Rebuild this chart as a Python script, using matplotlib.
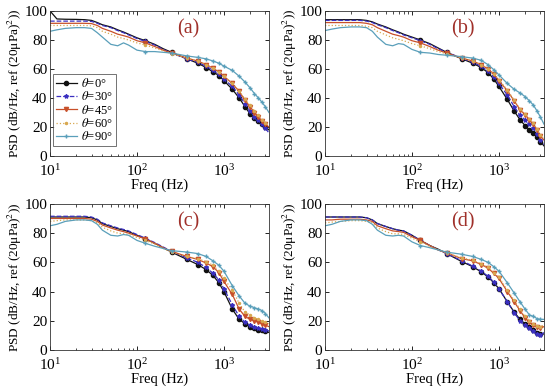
import numpy as np
import matplotlib
matplotlib.use("Agg")
import matplotlib.pyplot as plt
from matplotlib.ticker import LogLocator, NullFormatter

plt.rcParams['font.family'] = ['Liberation Serif', 'DejaVu Serif']
plt.rcParams['mathtext.fontset'] = 'stix'

# frequency grid (Hz)
freq = [10, 12, 15, 20, 25, 30, 35, 40, 50, 60, 70, 80, 100, 125, 160, 200, 250,
        375, 500, 625, 750, 875, 1000, 1250, 1500, 1750, 2000, 2250, 2500, 2750, 3000, 3300]

labels = [r'$\theta$=0°', r'$\theta$=30°', r'$\theta$=45°', r'$\theta$=60°', r'$\theta$=90°']

# panel (a)
a0 = [100, 94.5, 94.3, 94.2, 94, 93.5, 92, 90.5, 89, 87, 85.5, 84, 81.5, 79.5, 77, 74, 71.5, 67, 64, 61, 58, 55.5, 52, 46, 40, 34, 29, 26, 24, 22, 20, 18]
a30 = [93, 93, 93, 93, 93, 92.8, 91.5, 90, 88.5, 86.5, 85, 83.5, 81, 79, 76.5, 73.5, 71, 67, 64.5, 62, 59, 56.5, 53, 48, 42, 36, 31, 27, 25, 22, 19, 16]
a45 = [91.5, 91.5, 91.5, 91.5, 91.5, 91.3, 90, 88, 86, 84, 83, 82, 79.5, 78, 75.5, 73, 71, 67.5, 65.5, 63, 60.5, 58, 55, 50, 44.5, 38.5, 34, 30, 27, 24, 22, 20]
a60 = [90, 90, 90, 90, 90, 89.8, 88.5, 86, 84, 82, 81, 80, 78, 76.5, 74.5, 72.5, 70.5, 67.5, 65.5, 63, 60.5, 58, 55, 50, 45, 39, 35, 31, 28, 25, 23, 21]
a90 = [86, 87, 88, 88.5, 88.5, 88, 85, 82, 77, 76, 78, 76.5, 73, 72, 72, 71.5, 71, 69, 68, 67, 65.5, 64, 62, 59, 55, 51, 47, 43, 40, 37, 34, 30]

# panel (b)
b0 = [94, 94, 94, 94, 94, 93.5, 92.5, 91, 89, 87, 85.5, 84, 82, 80, 77.5, 74.5, 71.5, 67, 64, 61, 57.5, 53, 48, 39, 31, 25, 21, 18, 16, 13, 10, 7]
b30 = [93.5, 93.5, 93.5, 93.5, 93.5, 93, 92, 90.5, 88.5, 86.5, 85, 83.5, 81.5, 79.5, 77, 74, 71.5, 67.5, 64.5, 62, 58.5, 54.5, 50, 42, 34, 28, 25, 22, 19, 15, 11, 8]
b45 = [92, 92, 92, 92, 92, 91.5, 90.5, 88.5, 86, 84, 83, 82, 79.5, 78, 75.5, 73, 71, 67.5, 65.5, 63, 60, 56.5, 52, 45, 38, 32, 28.5, 25, 22, 18, 14, 11]
b60 = [90, 90, 90, 90, 90, 89.5, 88.5, 86, 83.5, 81.5, 80.5, 79.5, 77.5, 76, 74, 72, 70.5, 67.5, 65.5, 63, 60, 56.5, 52.5, 45.5, 38.5, 32.5, 29, 25.5, 22.5, 18.5, 14.5, 12]
b90 = [86.5, 87.5, 88.5, 89, 89, 88.5, 86, 82, 77, 76, 77.5, 77, 73.5, 71.5, 71, 70, 69.5, 68.5, 67.5, 66, 63, 59.5, 56, 50, 46, 43.5, 41, 38, 35, 31, 27, 22]

# panel (c)
c0 = [91, 91, 91, 91, 91, 90.5, 89, 86.5, 84.5, 83, 82, 81, 78.5, 76, 73, 70, 67, 62, 58.5, 55, 51, 46, 40, 28, 21, 18, 16, 15, 14, 13.5, 13, 12]
c30 = [91.5, 91.5, 91.5, 91.5, 91.5, 91, 89.5, 87, 85, 83.5, 82.5, 81.5, 79, 76.5, 73.5, 70.5, 67.5, 63, 60, 56.5, 52.5, 48, 42, 31, 23, 19, 17, 16, 15, 14.5, 14, 13]
c45 = [90, 90, 90, 90, 90, 89.5, 88, 85.5, 83.5, 82, 81, 80, 78, 76, 73, 70, 67.5, 64, 62, 59.5, 57, 53, 47, 38, 28, 23, 21, 20, 19, 18, 17, 16]
c60 = [88, 88.5, 89, 89, 89, 88.5, 87, 84, 81.5, 80, 79.5, 79, 77, 75, 72.5, 69.5, 67, 64, 62.5, 60.5, 58, 54, 49, 41, 32, 26, 24, 22, 21, 20, 19, 18]
c90 = [85, 86, 88, 89, 89, 88.5, 86, 82, 78.5, 78, 79, 78.5, 75, 73, 71, 69.5, 68, 67, 66, 64, 61, 58, 54, 44, 37, 32, 30, 29, 28, 27, 25, 22]

# panel (d)
d0 = [91, 91, 91, 91, 91, 90.5, 89, 86.5, 84.5, 83, 82, 81.5, 78.5, 75, 71.5, 69, 66, 60.5, 57, 53.5, 50, 46, 42, 33, 26, 21, 18, 16, 14, 12, 11, 11]
d30 = [91, 91, 91, 91, 91, 90.5, 89, 86.5, 84.5, 83, 82, 81.5, 78.5, 75, 71.5, 68.5, 66, 61, 57.5, 54, 50.5, 46.5, 42, 33, 25.5, 20, 17, 15, 13, 11, 10, 12]
d45 = [89, 89, 89.5, 89.5, 89.5, 89, 88, 85, 83, 81.5, 81, 80.5, 77.5, 75, 71.5, 68.5, 66.5, 62.5, 61, 58.5, 56, 52.5, 49, 40, 33, 27, 22, 19, 17, 15.5, 15, 16]
d60 = [87, 87.5, 88, 88.5, 88.5, 88, 87, 83.5, 81, 79.5, 79.5, 79, 76.5, 74, 71, 68.5, 66.5, 63, 61.5, 59, 56.5, 53, 50, 41, 34, 28, 23, 20, 18, 16.5, 16, 17]
d90 = [85, 86, 88, 89, 89, 88.5, 86, 82, 78.5, 78, 78.5, 78, 74, 71.5, 70, 68.5, 67, 65.5, 64, 62, 60, 57, 54, 46, 39, 33, 28, 24, 23, 21.5, 21, 21]

panels = [('(a)', [a0, a30, a45, a60, a90]),
          ('(b)', [b0, b30, b45, b60, b90]),
          ('(c)', [c0, c30, c45, c60, c90]),
          ('(d)', [d0, d30, d45, d60, d90])]

colors = ['#111111', '#3a2fc0', '#c8502a', '#d8a850', '#5a9fba']
styles = ['-', '--', '-', ':', '-']
markers = ['o', '*', 'v', '.', '+']

mark_idx = [i for i, f in enumerate(freq) if f % 125 == 0]

fig = plt.figure(figsize=(5.5, 3.92), dpi=100)
positions = [[0.091, 0.602, 0.398, 0.370],
             [0.591, 0.602, 0.398, 0.370],
             [0.091, 0.107, 0.398, 0.373],
             [0.591, 0.107, 0.398, 0.373]]

for pos, (tag, series) in zip(positions, panels):
    ax = fig.add_axes(pos)
    for k in range(5):
        ax.plot(freq, series[k], color=colors[k], linestyle=styles[k], linewidth=0.9,
                marker=markers[k], markersize=3, markevery=mark_idx, label=labels[k])
    ax.set_xscale('log')
    ax.set_xlim(10, 3300)
    ax.set_ylim(0, 100)
    ax.set_yticks([0, 20, 40, 60, 80, 100])
    ax.xaxis.set_minor_locator(LogLocator(base=10, subs=np.arange(2, 10)))
    ax.xaxis.set_minor_formatter(NullFormatter())
    ax.tick_params(which='both', direction='in', top=True, right=True, labelsize=11)
    ax.tick_params(axis='x', which='major', pad=5)
    ax.tick_params(axis='y', which='major', pad=2)
    ax.tick_params(which='major', length=3, width=0.6)
    ax.tick_params(which='minor', length=1.8, width=0.5)
    for s in ax.spines.values():
        s.set_linewidth(0.6)
        s.set_color('#333333')
    ax.set_xlabel('Freq (Hz)', fontsize=10.5, labelpad=0)
    ax.set_ylabel(r'PSD (dB/Hz, ref (20μPa)$^{2}$))', fontsize=9.5, labelpad=0)
    ax.text(0.63, 0.88, tag, transform=ax.transAxes, fontsize=14.5, color='#a0302a',
            ha='center', va='center')
    if tag == '(a)':
        leg = ax.legend(loc='lower left', bbox_to_anchor=(0.0, 0.05), fontsize=9,
                        frameon=True, fancybox=False, edgecolor='#333333',
                        handlelength=1.7, handletextpad=0.3, labelspacing=0.02,
                        borderpad=0.25, borderaxespad=0.2)
        leg.get_frame().set_linewidth(0.6)

fig.savefig('out.png', dpi=100)
